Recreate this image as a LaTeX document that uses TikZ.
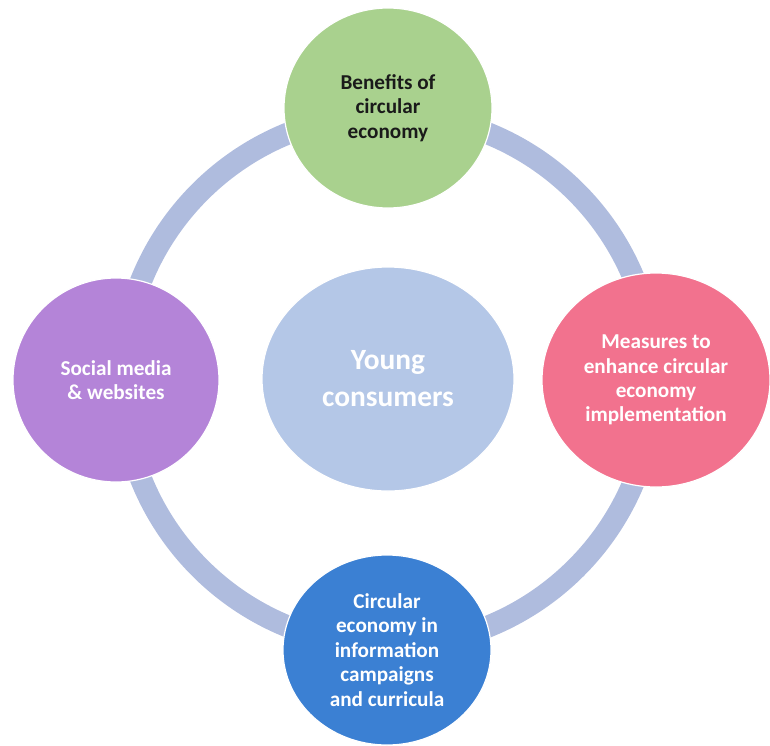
\documentclass[tikz,border=0pt]{standalone}
\usepackage{fontspec}
\setmainfont{Carlito}
\usetikzlibrary{shapes.geometric}

\definecolor{ringblue}{HTML}{AFBCDE}
\definecolor{leafgreen}{HTML}{A9D18E}
\definecolor{rosepink}{HTML}{F2728E}
\definecolor{lilac}{HTML}{B484D8}
\definecolor{oceanblue}{HTML}{3B80D3}
\definecolor{paleblue}{HTML}{B4C7E7}
\definecolor{darktext}{HTML}{1A1A1A}

\tikzset{
  bubble/.style={ellipse, draw=white, line width=0.6pt, inner sep=0pt,
    align=center, text=white,
    font=\bfseries\fontsize{10.6}{12.2}\selectfont},
  hub/.style={ellipse, draw=white, line width=0.6pt, inner sep=0pt,
    align=center, text=white,
    font=\bfseries\fontsize{14.7}{18.5}\selectfont},
  loop/.style={draw=ringblue, line width=11pt}
}

\begin{document}
\begin{tikzpicture}[x=0.5pt,y=-0.5pt]
  \useasboundingbox (0,0) rectangle (770,745);
  \clip (0,0) rectangle (770,745);

  % ring joining the four topics
  \draw[loop] (388,380) circle [radius=266];

  % central theme
  \node[hub, fill=paleblue, minimum width=126pt, minimum height=112pt]
    (young) at (388,379) {Young\\consumers};

  % surrounding topics
  \node[bubble, fill=leafgreen, text=darktext, minimum width=104pt, minimum height=100pt]
    (benefits) at (388,108) {Benefits of\\circular\\economy};
  \node[bubble, fill=rosepink, minimum width=114pt, minimum height=107pt]
    (measures) at (656,380) {Measures to\\enhance circular\\economy\\implementation};
  \node[bubble, fill=oceanblue, minimum width=104pt, minimum height=95pt]
    (campaigns) at (387,650) {Circular\\economy in\\information\\campaigns\\and curricula};
  \node[bubble, fill=lilac, minimum width=103pt, minimum height=102pt]
    (social) at (116,380) {Social media\\\& websites};
\end{tikzpicture}
\end{document}
